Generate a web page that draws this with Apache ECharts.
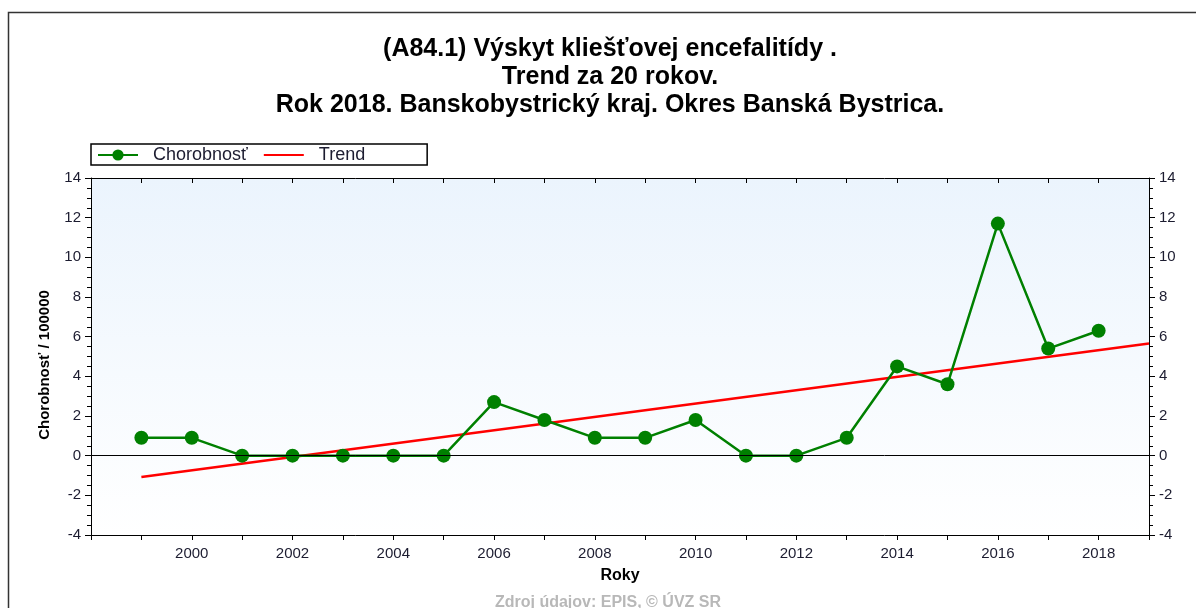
<!DOCTYPE html>
<html>
<head>
<meta charset="utf-8">
<script src="https://cdn.jsdelivr.net/npm/echarts@6/dist/echarts.min.js"></script>
<style>
	html, body { margin: 0; padding: 0; background: #fff; }
	#lineChart { width: 1196px; height: 608px; }
</style>
</head>
<body>
<div id="lineChart"></div>
<script>
'use strict';
var years = [1999, 2000, 2001, 2002, 2003, 2004, 2005, 2006, 2007, 2008,
		2009, 2010, 2011, 2012, 2013, 2014, 2015, 2016, 2017, 2018],
	chorobnost = [0.9, 0.9, 0, 0, 0, 0, 0, 2.7, 1.8, 0.9,
		0.9, 1.8, 0, 0, 0.9, 4.5, 3.6, 11.7, 5.4, 6.3],
	trendYears = [1999, 2019],
	trendValues = [-1.08, 5.66],
	titleLines = [
		'(A84.1) Výskyt kliešťovej encefalitídy .',
		'Trend za 20 rokov.',
		'Rok 2018. Banskobystrický kraj. Okres Banská Bystrica.'
	];

var font = 'Liberation Sans, Arial, sans-serif',
	chart = echarts.init(document.getElementById('lineChart'));

function pairs(xs, ys) {
	return xs.map(function (x, i) { return [x, ys[i]]; });
}

var yAxisBase = {
	type: 'value',
	min: -4,
	max: 14,
	interval: 2,
	axisLine: { show: true, lineStyle: { color: '#000', width: 1 } },
	axisTick: { show: true, length: 6, lineStyle: { color: '#000' } },
	minorTick: { show: true, splitNumber: 4, length: 4, lineStyle: { color: '#000' } },
	splitLine: { show: false },
	axisLabel: { color: '#1c1c30', fontFamily: font, fontSize: 15, margin: 10 }
};

var options = {
	animation: false,
	textStyle: { fontFamily: font },
	title: {
		text: titleLines.join('\n'),
		left: 605,
		top: 30,
		textAlign: 'center',
		textStyle: { fontFamily: font, fontSize: 25, fontWeight: 'bold', color: '#000', lineHeight: 28 }
	},
	legend: {
		left: 91,
		top: 144,
		padding: [2, 62, 1, 6],
		itemGap: 15,
		itemWidth: 40,
		itemHeight: 14,
		borderColor: '#000',
		borderWidth: 1.5,
		borderRadius: 0,
		textStyle: { fontFamily: font, fontSize: 18, color: '#1c1c30', padding: [0, 0, 0, 10] },
		data: [
			{ name: 'Chorobnosť' },
			{ name: 'Trend', itemStyle: { opacity: 0 } }
		]
	},
	grid: {
		left: 91,
		right: 47,
		top: 178,
		bottom: 73,
		show: true,
		borderWidth: 0,
		backgroundColor: {
			type: 'linear', x: 0, y: 0, x2: 0, y2: 1,
			colorStops: [{ offset: 0, color: '#ebf4fd' }, { offset: 1, color: '#ffffff' }]
		}
	},
	xAxis: [
		{
			type: 'value',
			min: 1998,
			max: 2019,
			interval: 1,
			name: 'Roky',
			nameLocation: 'middle',
			nameGap: 33,
			nameTextStyle: { fontFamily: font, fontSize: 16, fontWeight: 'bold', color: '#000' },
			axisLine: { show: true, onZero: false, lineStyle: { color: '#000', width: 1 } },
			axisTick: { show: true, length: 5, lineStyle: { color: '#000' } },
			splitLine: { show: false },
			axisLabel: {
				color: '#1c1c30', fontFamily: font, fontSize: 15, margin: 11,
				formatter: function (v) { return (v % 2 === 0 && v > 1998) ? String(v) : ''; }
			}
		},
		{
			type: 'value',
			position: 'top',
			min: 1998,
			max: 2019,
			interval: 1,
			axisLine: { show: true, onZero: false, lineStyle: { color: '#000', width: 1 } },
			axisTick: { show: true, inside: true, length: 5, lineStyle: { color: '#000' } },
			splitLine: { show: false },
			axisLabel: { show: false }
		}
	],
	yAxis: [
		echarts.util.merge({ position: 'left' }, yAxisBase, false),
		echarts.util.merge({ position: 'right' }, yAxisBase, false)
	],
	graphic: [
		{
			type: 'rect',
			silent: true,
			shape: { x: 8.5, y: 12.5, width: 1250, height: 700 },
			style: { fill: 'none', stroke: '#333', lineWidth: 1.5 }
		},
		{
			type: 'text',
			x: 45,
			y: 365,
			rotation: Math.PI / 2,
			style: {
				text: 'Chorobnosť / 100000',
				fill: '#000',
				font: 'bold 15px ' + font,
				align: 'center',
				verticalAlign: 'middle'
			}
		},
		{
			type: 'text',
			x: 608,
			y: 603,
			style: {
				text: 'Zdroj údajov: EPIS, © ÚVZ SR',
				fill: '#b8b8b8',
				font: 'bold 16px ' + font,
				align: 'center',
				verticalAlign: 'middle'
			}
		}
	],
	series: [
		{
			name: 'Trend',
			type: 'line',
			symbol: 'none',
			color: '#ff0000',
			lineStyle: { color: '#ff0000', width: 2.5 },
			data: pairs(trendYears, trendValues),
			z: 3
		},
		{
			name: 'Chorobnosť',
			type: 'line',
			symbol: 'circle',
			symbolSize: 14,
			color: '#008000',
			itemStyle: { color: '#008000' },
			lineStyle: { color: '#008000', width: 2.5 },
			data: pairs(years, chorobnost),
			markLine: {
				silent: true,
				symbol: 'none',
				label: { show: false },
				lineStyle: { color: '#000', width: 1, type: 'solid' },
				data: [{ yAxis: 0 }]
			},
			z: 4
		}
	]
};

chart.setOption(options);
</script>
</body>
</html>
